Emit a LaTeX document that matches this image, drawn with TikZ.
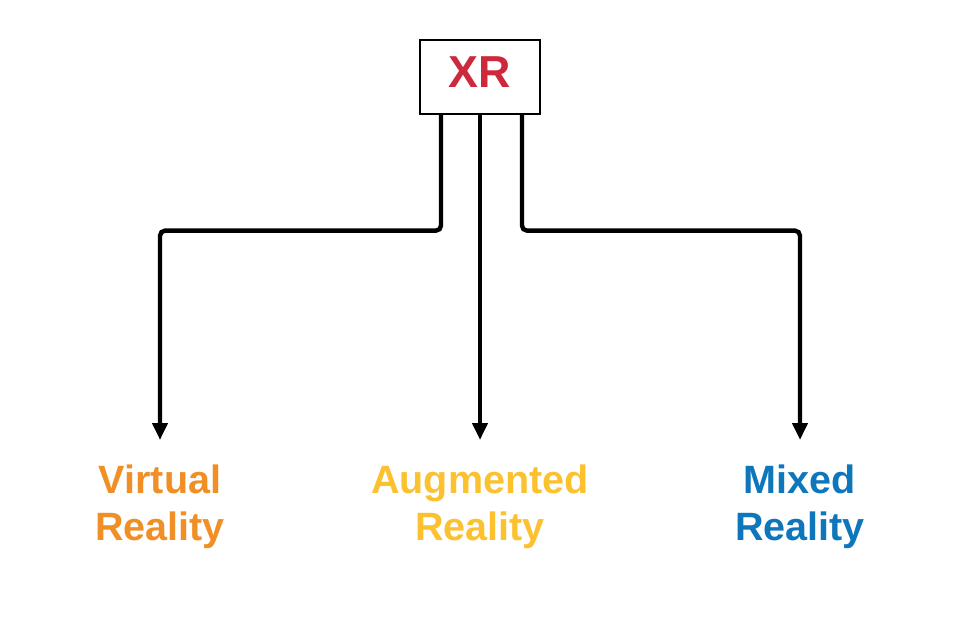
\documentclass[tikz,border=0pt]{standalone}
\usepackage{fontspec}
\setmainfont{Liberation Sans}
\usetikzlibrary{arrows.meta}
\definecolor{xrred}{HTML}{CC2A3C}
\definecolor{vrorange}{HTML}{F08F25}
\definecolor{aryellow}{HTML}{FBC12F}
\definecolor{mrblue}{HTML}{0E76BA}

\begin{document}
\begin{tikzpicture}[
	x=0.02cm, y=-0.02cm,
	every node/.style={font=\fontsize{22.5}{26.8}\selectfont\bfseries},
	root/.style={draw, line width=0.75pt, minimum width=2.4cm, minimum height=1.48cm, text depth=0.2cm, text=xrred, font=\fontsize{25.5}{30}\selectfont\bfseries},
	kind/.style={align=center, anchor=north, inner ysep=0.49cm},
	link/.style={line width=2.5pt, rounded corners=0.1cm, -{Triangle[length=0.34cm, width=0.3cm]}}
]
\useasboundingbox (0,0) rectangle (960,618);
\node[root] (xr) at (480,77) {XR};
\node[kind, text=vrorange] (vr) at (160,440) {Virtual\\Reality};
\node[kind, text=aryellow] (ar) at (480,440) {Augmented\\Reality};
\node[kind, text=mrblue] (mr) at (800,440) {Mixed\\Reality};
\draw[link] ([xshift=-0.78cm]xr.south) -- ++(0,116) -| (vr.north);
\draw[link] (xr.south) -- (ar.north);
\draw[link] ([xshift=0.84cm]xr.south) -- ++(0,116) -| (mr.north);
\end{tikzpicture}
\end{document}
